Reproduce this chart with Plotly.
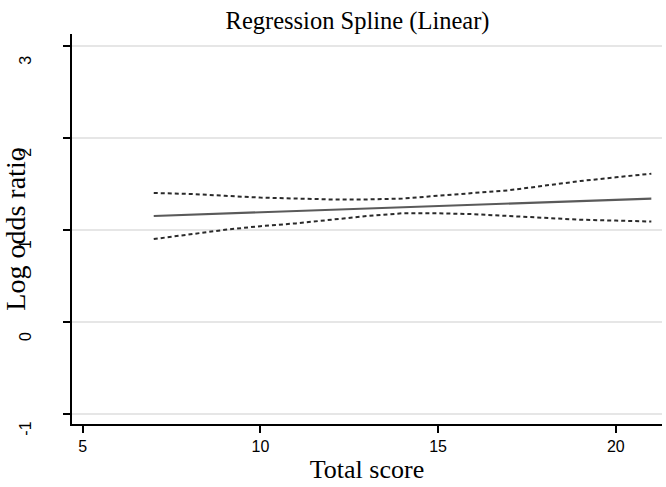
import plotly.graph_objects as go

# Data
score = [7, 8, 9, 10, 11, 12, 13, 14, 15, 16, 17, 18, 19, 20, 21]
fit = [1.15, 1.164, 1.177, 1.191, 1.204, 1.218, 1.231, 1.245, 1.258, 1.272, 1.285, 1.299, 1.312, 1.326, 1.34]
upper = [1.40, 1.39, 1.37, 1.35, 1.34, 1.33, 1.33, 1.34, 1.37, 1.40, 1.43, 1.48, 1.53, 1.57, 1.61]
lower = [0.90, 0.95, 1.00, 1.04, 1.07, 1.11, 1.15, 1.18, 1.18, 1.17, 1.15, 1.13, 1.11, 1.10, 1.09]

x_ticks = [5, 10, 15, 20]
y_ticks = [-1, 0, 1, 2, 3]

serif = "Liberation Serif, Times New Roman, serif"
sans = "Liberation Sans, Arial, sans-serif"

fig = go.Figure()
fig.add_trace(go.Scatter(x=score, y=upper, mode="lines",
                         line=dict(color="#2a2a2a", width=2, dash="4px,3px"),
                         showlegend=False))
fig.add_trace(go.Scatter(x=score, y=lower, mode="lines",
                         line=dict(color="#2a2a2a", width=2, dash="4px,3px"),
                         showlegend=False))
fig.add_trace(go.Scatter(x=score, y=fit, mode="lines",
                         line=dict(color="#5a5a5a", width=2.2),
                         showlegend=False))

fig.update_layout(
    width=666, height=487,
    margin=dict(l=72, r=4, t=34, b=63),
    paper_bgcolor="white", plot_bgcolor="white",
    title=dict(text="Regression Spline (Linear)", x=0.484, xref="paper",
               xanchor="center", y=0.958, yref="container", yanchor="middle",
               font=dict(family=serif, size=24.5, color="black")),
    xaxis=dict(range=[4.70, 21.30], tickvals=x_ticks, ticktext=[str(v) for v in x_ticks],
               automargin=False,
               showgrid=False, zeroline=False,
               showline=True, linecolor="black", linewidth=2,
               ticks="outside", ticklen=7, tickwidth=1.5, tickcolor="black",
               tickfont=dict(family=sans, size=16, color="black"),
               title=dict(text="Total score", standoff=6,
                          font=dict(family=serif, size=26, color="black"))),
    yaxis=dict(range=[-1.109, 3.127], tickvals=y_ticks, ticktext=[str(v) for v in y_ticks],
               automargin=False,
               showgrid=True, gridcolor="#e6e6e6", gridwidth=1.5, zeroline=False,
               showline=True, linecolor="black", linewidth=2,
               ticks="outside", ticklen=7, tickwidth=1.5, tickcolor="black",
               tickangle=-90, ticklabelshift=17, ticklabelstandoff=26,
               tickfont=dict(family=sans, size=16, color="black"),
               title=dict(text="Log odds ratio", standoff=0,
                          font=dict(family=serif, size=28, color="black"))),
)

fig.write_html("out.html", config={"displayModeBar": False},
               post_script="document.body.style.margin='0';document.body.style.padding='0';")
